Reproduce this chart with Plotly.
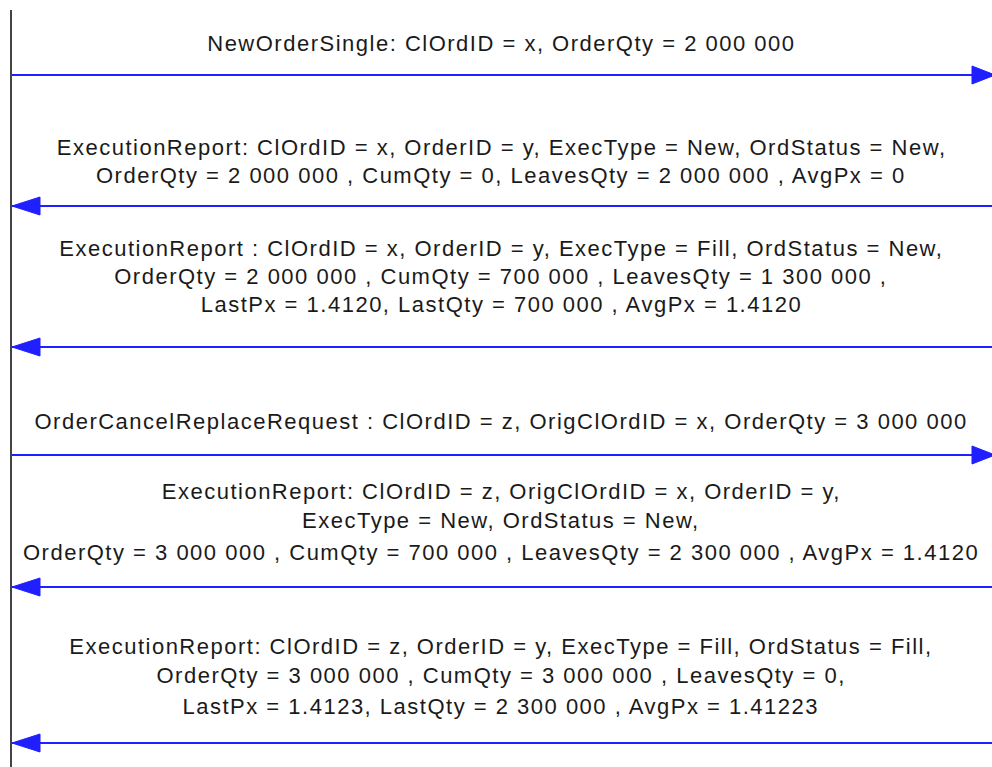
import plotly.graph_objects as go

# ---- data: the messages of the sequence diagram ----
message_lines = [
    ["NewOrderSingle: ClOrdID = x, OrderQty = 2 000 000"],
    ["ExecutionReport: ClOrdID = x, OrderID = y, ExecType = New, OrdStatus = New,",
     "OrderQty = 2 000 000 , CumQty = 0, LeavesQty = 2 000 000 , AvgPx = 0"],
    ["ExecutionReport : ClOrdID = x, OrderID = y, ExecType = Fill, OrdStatus = New,",
     "OrderQty = 2 000 000 , CumQty = 700 000 , LeavesQty = 1 300 000 ,",
     "LastPx = 1.4120, LastQty = 700 000 , AvgPx = 1.4120"],
    ["OrderCancelReplaceRequest : ClOrdID = z, OrigClOrdID = x, OrderQty = 3 000 000"],
    ["ExecutionReport: ClOrdID = z, OrigClOrdID = x, OrderID = y,",
     "ExecType = New, OrdStatus = New,",
     "OrderQty = 3 000 000 , CumQty = 700 000 , LeavesQty = 2 300 000 , AvgPx = 1.4120"],
    ["ExecutionReport: ClOrdID = z, OrderID = y, ExecType = Fill, OrdStatus = Fill,",
     "OrderQty = 3 000 000 , CumQty = 3 000 000 , LeavesQty = 0,",
     "LastPx = 1.4123, LastQty = 2 300 000 , AvgPx = 1.41223"],
]
directions = ["right", "left", "left", "right", "left", "left"]

# ---- layout (pixel space) ----
W, H = 992, 767
LIFELINE_X = 11
LINE_X0, LINE_X1 = 12, 992
arrow_y = [75, 206, 347, 455, 587, 743]
text_y = [[43], [147, 175], [248, 276, 304], [421], [491, 520, 552], [646, 675, 706]]
TEXT_X = 501
BLUE = "#1f1fff"

fig = go.Figure()

# lifeline
fig.add_trace(go.Scatter(x=[LIFELINE_X, LIFELINE_X], y=[10, H], mode="lines",
                         line=dict(color="#444444", width=2), hoverinfo="skip"))

annotations = []
for lines, d, ay, tys in zip(message_lines, directions, arrow_y, text_y):
    fig.add_trace(go.Scatter(x=[LINE_X0, LINE_X1], y=[ay, ay], mode="lines",
                             line=dict(color=BLUE, width=2), hoverinfo="skip"))
    if d == "left":
        hx = [LINE_X0, LINE_X0 + 28, LINE_X0 + 28, LINE_X0]
    else:
        hx = [W + 3, W - 20, W - 20, W + 3]
    hy = [ay, ay - 9, ay + 9, ay]
    fig.add_trace(go.Scatter(x=hx, y=hy, mode="lines", fill="toself",
                             fillcolor=BLUE, line=dict(color=BLUE, width=1),
                             hoverinfo="skip"))
    for txt, ty in zip(lines, tys):
        annotations.append(dict(x=TEXT_X, y=ty, text=txt, showarrow=False,
                                xanchor="center", yanchor="middle",
                                font=dict(family="Liberation Sans", size=22, color="#1a1a1a")))

fig.update_layout(
    width=W, height=H, margin=dict(l=0, r=0, t=0, b=0),
    paper_bgcolor="white", plot_bgcolor="white", showlegend=False,
    xaxis=dict(range=[0, W], visible=False, fixedrange=True),
    yaxis=dict(range=[H, 0], visible=False, fixedrange=True),
    annotations=annotations,
)

post = (
    "document.body.style.margin='0';"
    "document.querySelectorAll('.annotation-text').forEach(function(e){"
    "e.style.letterSpacing='1.5px';});"
)
fig.write_html("out.html", post_script=post, config={"displayModeBar": False})
